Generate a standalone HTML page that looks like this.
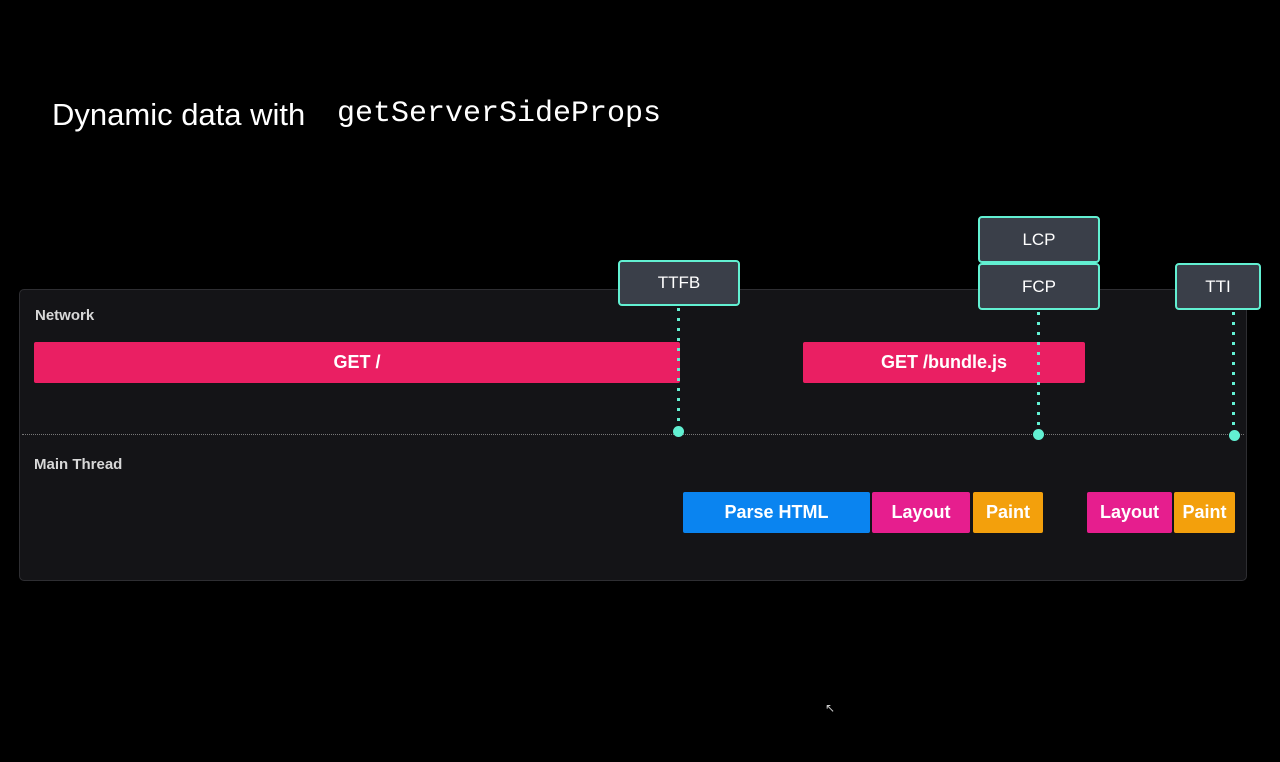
<!DOCTYPE html>
<html><head><style>
body{margin:0;width:1280px;height:762px;background:#000;position:relative;overflow:hidden;font-family:"Liberation Sans",sans-serif;}
.a{position:absolute;box-sizing:border-box;}
.bar{position:absolute;display:flex;align-items:center;justify-content:center;color:#fff;font-weight:bold;font-size:18px;border-radius:2px;}
.m{position:absolute;box-sizing:border-box;background:#3a3f49;border:2px solid #62f0d2;border-radius:4px;color:#fff;font-size:17px;display:flex;align-items:center;justify-content:center;}
.v{position:absolute;width:3px;background:repeating-linear-gradient(to bottom,#62f0d2 0 3px,transparent 3px 10px);}
.dot{position:absolute;width:11px;height:11px;border-radius:50%;background:#62f0d2;}
</style></head><body>
<div class="a" style="left:52px;top:97px;color:#fff;font-size:31px;white-space:nowrap;">Dynamic data with</div>
<div class="a" style="left:337px;top:97px;color:#fff;font-size:30px;font-family:'Liberation Mono',monospace;white-space:nowrap;">getServerSideProps</div>
<div class="a" style="left:19px;top:289px;width:1228px;height:292px;background:#141417;border:1px solid #2e2e32;border-radius:5px;"></div>
<div class="a" style="left:35px;top:307px;color:#d8d8d8;font-weight:bold;font-size:15px;">Network</div>
<div class="a" style="left:34px;top:456px;color:#d8d8d8;font-weight:bold;font-size:15px;">Main Thread</div>
<div class="a" style="left:22px;top:434px;width:1222px;border-top:1px dotted #777;"></div>
<div class="bar" style="left:34px;top:342px;width:646px;height:41px;background:#ea1f63;">GET /</div>
<div class="bar" style="left:803px;top:342px;width:282px;height:41px;background:#ea1f63;">GET /bundle.js</div>
<div class="bar" style="left:683px;top:492px;width:187px;height:41px;background:#0a84f0;">Parse HTML</div>
<div class="bar" style="left:872px;top:492px;width:98px;height:41px;background:#e61e8e;">Layout</div>
<div class="bar" style="left:973px;top:492px;width:70px;height:41px;background:#f3a00c;">Paint</div>
<div class="bar" style="left:1087px;top:492px;width:85px;height:41px;background:#e61e8e;">Layout</div>
<div class="bar" style="left:1174px;top:492px;width:61px;height:41px;background:#f3a00c;">Paint</div>
<div class="v" style="left:677px;top:308px;height:122px;"></div>
<div class="v" style="left:1037px;top:312px;height:120px;"></div>
<div class="v" style="left:1232px;top:312px;height:120px;"></div>
<div class="dot" style="left:673px;top:426px;"></div>
<div class="dot" style="left:1033px;top:429px;"></div>
<div class="dot" style="left:1229px;top:430px;"></div>
<div class="m" style="left:618px;top:260px;width:122px;height:46px;">TTFB</div>
<div class="m" style="left:978px;top:216px;width:122px;height:47px;">LCP</div>
<div class="m" style="left:978px;top:263px;width:122px;height:47px;">FCP</div>
<div class="m" style="left:1175px;top:263px;width:86px;height:47px;">TTI</div>
<div class="a" style="left:825px;top:701px;color:#ccc;font-size:12px;">&#x2196;</div>
</body></html>
